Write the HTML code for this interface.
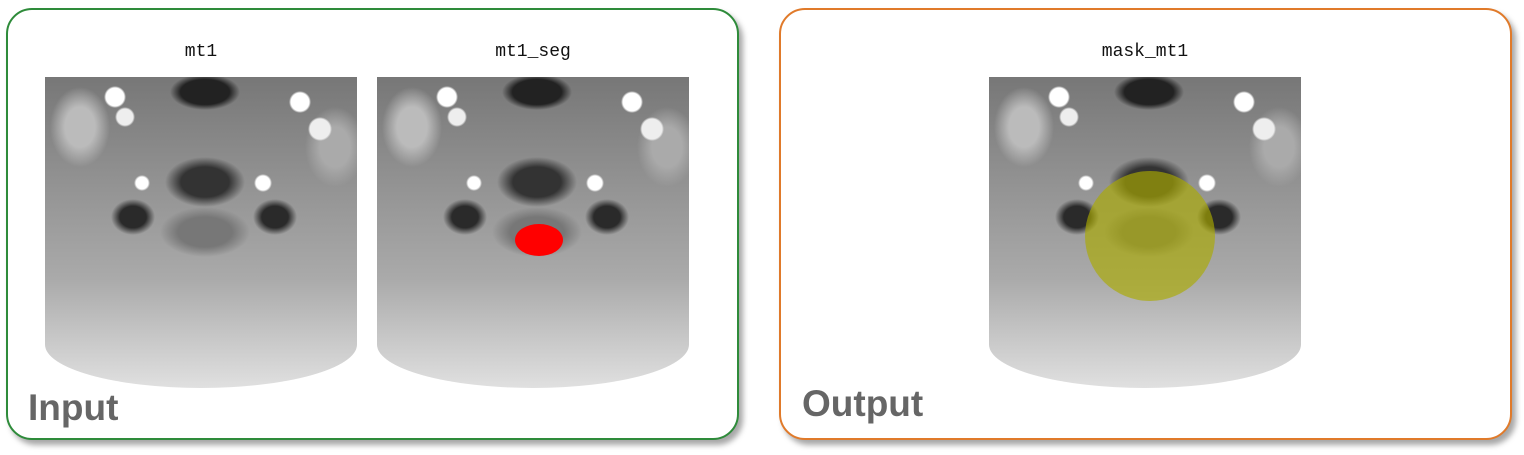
<!DOCTYPE html>
<html><head><meta charset="utf-8">
<style>
html,body{margin:0;padding:0;background:#fff;width:1524px;height:455px;overflow:hidden;font-family:"Liberation Sans",sans-serif}
.panel{position:absolute;top:8px;height:428px;border-radius:26px;background:#fff;box-shadow:4px 5px 6px rgba(0,0,0,0.35)}
#inp{left:6px;width:729px;border:2px solid #2e8b3a}
#out{left:779px;width:729px;border:2px solid #e07a2a}
.big{position:absolute;font-weight:bold;font-size:37px;color:#666}
.ttl{position:absolute;top:42px;width:312px;text-align:center;font-family:"Liberation Mono",monospace;font-size:18px;color:#111}
.img{position:absolute;top:77px;width:312px;height:311px;background:#fff;overflow:hidden}
.scan{position:absolute;left:0;top:0;width:312px;height:311px;border-radius:0 0 50% 50%/0 0 14% 14%;
background:
radial-gradient(circle at 70px 20px,#fff 0 9px,transparent 11px),
radial-gradient(circle at 80px 40px,#eee 0 8px,transparent 10px),
radial-gradient(circle at 255px 25px,#fff 0 9px,transparent 11px),
radial-gradient(circle at 275px 52px,#eee 0 10px,transparent 12px),
radial-gradient(circle at 97px 106px,#fff 0 6px,transparent 8px),
radial-gradient(circle at 218px 106px,#fff 0 7px,transparent 9px),
radial-gradient(ellipse 40px 25px at 160px 105px,#333 0 60%,transparent 100%),
radial-gradient(ellipse 35px 18px at 160px 15px,#222 0 70%,transparent 100%),
radial-gradient(ellipse 22px 18px at 88px 140px,#2a2a2a 0 60%,transparent 100%),
radial-gradient(ellipse 22px 18px at 230px 140px,#2a2a2a 0 60%,transparent 100%),
radial-gradient(ellipse 45px 25px at 160px 155px,#777 0 60%,transparent 100%),
radial-gradient(ellipse 30px 40px at 35px 50px,#bbb 0 50%,transparent 100%),
radial-gradient(ellipse 30px 40px at 290px 70px,#aaa 0 50%,transparent 100%),
linear-gradient(180deg,#777 0%,#939393 35%,#aaa 65%,#e0e0e0 100%)}
.seg{position:absolute;left:138px;top:147px;width:48px;height:32px;background:#f00;border-radius:50%}
.mask{position:absolute;left:96px;top:94px;width:130px;height:130px;background:rgba(170,170,0,0.65);border-radius:50%}
</style></head><body>
<div id="inp" class="panel"></div>
<div id="out" class="panel"></div>

<div class="ttl" style="left:45px">mt1</div>
<div class="ttl" style="left:377px">mt1_seg</div>
<div class="ttl" style="left:989px">mask_mt1</div>

<div class="img" style="left:45px"><div class="scan"></div></div>
<div class="img" style="left:377px"><div class="scan"></div><div class="seg"></div></div>
<div class="img" style="left:989px"><div class="scan"></div><div class="mask"></div></div>

<div class="big" style="left:28px;top:387px">Input</div>
<div class="big" style="left:802px;top:383px">Output</div>
</body></html>
